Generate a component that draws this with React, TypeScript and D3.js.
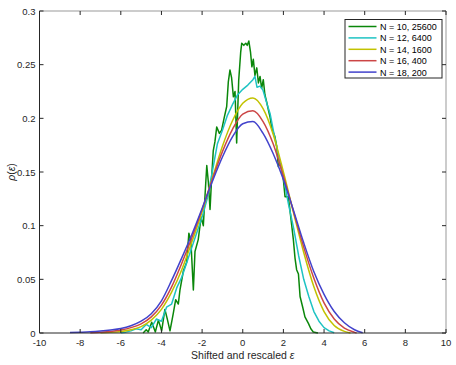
import React from 'react';
import * as d3 from 'd3';

// values
const xTicks = [-10, -8, -6, -4, -2, 0, 2, 4, 6, 8, 10];
const yTicks = [0, 0.05, 0.1, 0.15, 0.2, 0.25, 0.3];
const yTickLabels = ['0', '0.05', '0.1', '0.15', '0.2', '0.25', '0.3'];

const labels = ['N = 10, 25600', 'N = 12, 6400', 'N = 14, 1600', 'N = 16, 400', 'N = 18, 200'];
const colors = ['#0a870a', '#1ec3c3', '#c2c200', '#cc4646', '#4242cc'];

// N = 10 (noisy)
const n10: [number, number][] = [
  [-4.9, 0], [-4.75, 0.003], [-4.65, 0.001], [-4.48, 0.01], [-4.3, 0.001], [-4.15, 0.012],
  [-3.99, 0.002], [-3.83, 0.022], [-3.7, 0.012], [-3.58, 0.002], [-3.42, 0.018], [-3.3, 0.031],
  [-3.17, 0.027], [-3.09, 0.04], [-2.92, 0.058], [-2.76, 0.066], [-2.65, 0.093], [-2.55, 0.085],
  [-2.43, 0.04], [-2.35, 0.076], [-2.19, 0.087], [-2.05, 0.108], [-1.94, 0.1], [-1.86, 0.127],
  [-1.77, 0.156], [-1.69, 0.14], [-1.61, 0.115], [-1.53, 0.145], [-1.45, 0.17], [-1.37, 0.178],
  [-1.28, 0.192], [-1.15, 0.186], [-1.04, 0.189], [-0.92, 0.2], [-0.79, 0.211], [-0.71, 0.234],
  [-0.63, 0.245], [-0.55, 0.238], [-0.46, 0.22], [-0.38, 0.225], [-0.3, 0.177], [-0.2, 0.235],
  [-0.1, 0.262], [-0.05, 0.27], [0.05, 0.268], [0.15, 0.27], [0.22, 0.268], [0.3, 0.272],
  [0.38, 0.262], [0.45, 0.248], [0.52, 0.255], [0.6, 0.24], [0.69, 0.247], [0.77, 0.233],
  [0.85, 0.239], [0.93, 0.228], [1.01, 0.236], [1.09, 0.222], [1.18, 0.215], [1.26, 0.208],
  [1.34, 0.2015], [1.42, 0.192], [1.5, 0.187], [1.58, 0.183], [1.67, 0.174], [1.75, 0.155],
  [1.83, 0.158], [1.92, 0.152], [2.0, 0.1425], [2.08, 0.127], [2.24, 0.127], [2.32, 0.115],
  [2.49, 0.087], [2.57, 0.07], [2.65, 0.059], [2.74, 0.055], [2.82, 0.034], [2.95, 0.024],
  [3.06, 0.015], [3.23, 0.009], [3.35, 0.004], [3.47, 0.001], [3.7, 0],
];

// N = 12
const n12: [number, number][] = [
  [-6.0, 0.0003], [-5.75, 0.0008], [-5.5, 0.002], [-5.25, 0.004], [-5.0, 0.003], [-4.75, 0.008],
  [-4.5, 0.005], [-4.25, 0.013], [-4.0, 0.011], [-3.75, 0.024], [-3.5, 0.027], [-3.25, 0.042],
  [-3.0, 0.052], [-2.75, 0.066], [-2.5, 0.08], [-2.25, 0.094], [-2.0, 0.108], [-1.75, 0.125],
  [-1.5, 0.15], [-1.25, 0.176], [-1.0, 0.189], [-0.75, 0.203], [-0.5, 0.213], [-0.25, 0.222],
  [0, 0.227], [0.25, 0.231], [0.5, 0.236], [0.6, 0.239], [0.7, 0.229], [0.85, 0.23],
  [1.0, 0.226], [1.2, 0.213], [1.35, 0.204], [1.5, 0.189], [1.75, 0.166], [2.0, 0.145],
  [2.25, 0.12], [2.5, 0.098], [2.75, 0.072], [3.0, 0.05], [3.25, 0.034], [3.5, 0.02],
  [3.75, 0.011], [4.0, 0.005], [4.25, 0.002], [4.5, 0.0003],
];

// N = 14
const n14: [number, number][] = [
  [-7, 0.0002], [-6.5, 0.0006], [-6, 0.0014], [-5.5, 0.003], [-5, 0.006], [-4.5, 0.012],
  [-4, 0.022], [-3.5, 0.038], [-3, 0.059], [-2.5, 0.085], [-2, 0.113], [-1.5, 0.144],
  [-1, 0.174], [-0.5, 0.198], [0, 0.214], [0.5, 0.219], [1, 0.209], [1.5, 0.185],
  [2, 0.15], [2.5, 0.112], [3, 0.075], [3.5, 0.043], [4, 0.02], [4.5, 0.007],
  [5, 0.0015], [5.3, 0],
];

// N = 16
const n16: [number, number][] = [
  [-7.5, 0.0003], [-7, 0.0007], [-6.5, 0.0014], [-6, 0.0028], [-5.5, 0.005], [-5, 0.0085],
  [-4.5, 0.015], [-4, 0.026], [-3.5, 0.043], [-3, 0.065], [-2.5, 0.089], [-2, 0.115],
  [-1.5, 0.143], [-1, 0.169], [-0.5, 0.19], [0, 0.204], [0.5, 0.207], [1, 0.197],
  [1.5, 0.176], [2, 0.146], [2.5, 0.113], [3, 0.08], [3.5, 0.051], [4, 0.028],
  [4.5, 0.013], [5, 0.0045], [5.5, 0.0006], [5.6, 0],
];

// N = 18
const n18: [number, number][] = [
  [-8.5, 0.0004], [-8, 0.0007], [-7.5, 0.0011], [-7, 0.0018], [-6.5, 0.0028], [-6, 0.0042],
  [-5.5, 0.0068], [-5, 0.011], [-4.5, 0.018], [-4, 0.03], [-3.5, 0.049], [-3, 0.07],
  [-2.5, 0.092], [-2, 0.116], [-1.5, 0.141], [-1, 0.164], [-0.5, 0.183], [0, 0.195],
  [0.5, 0.197], [1, 0.186], [1.5, 0.167], [2, 0.143], [2.5, 0.114], [3, 0.084],
  [3.5, 0.057], [4, 0.036], [4.5, 0.02], [5, 0.0095], [5.5, 0.003], [5.9, 0.0003],
];

const series = [n10, n12, n14, n16, n18];

const W = 456, H = 365;
const m = { left: 39.5, right: 10, top: 11, bottom: 32 };
const font = 'Liberation Sans, Arial, sans-serif';
const axisColor = '#262626';

export default function App() {
  const x = d3.scaleLinear().domain([-10, 10]).range([m.left, W - m.right]);
  const y = d3.scaleLinear().domain([0, 0.3]).range([H - m.bottom, m.top]);

  const lineJagged = d3.line<[number, number]>().x(d => x(d[0])).y(d => y(d[1]));
  const lineSmooth = d3.line<[number, number]>()
    .x(d => x(d[0])).y(d => y(d[1]))
    .curve(d3.curveMonotoneX);

  const x0 = x(-10), x1 = x(10), y0 = y(0), y1 = y(0.3);
  const tl = 4;

  const legX = 345, legY = 19.5, legW = 97, legH = 58.5, rowH = 11.4;

  return (
    <svg width={W} height={H} style={{ position: 'absolute', left: 0, top: 0, background: '#fff' }}>
      {/* curves */}
      {series.map((s, i) => (
        <path
          key={i}
          d={(i < 2 ? lineJagged(s) : lineSmooth(s)) || ''}
          fill="none"
          stroke={colors[i]}
          strokeWidth={1.5}
          strokeLinejoin="round"
        />
      ))}

      {/* box */}
      <line x1={x0} x2={x1} y1={y1} y2={y1} stroke="#999" strokeWidth={1} />
      <line x1={x1} x2={x1} y1={y1} y2={y0} stroke="#999" strokeWidth={1} />
      <line x1={x0} x2={x1} y1={y0} y2={y0} stroke={axisColor} strokeWidth={1} />
      <line x1={x0} x2={x0} y1={y1} y2={y0} stroke={axisColor} strokeWidth={1} />

      {/* x ticks */}
      {xTicks.map(t => (
        <g key={'x' + t}>
          <line x1={x(t)} x2={x(t)} y1={y0} y2={y0 - tl} stroke={axisColor} />
          <line x1={x(t)} x2={x(t)} y1={y1} y2={y1 + tl} stroke={axisColor} />
          <text x={x(t)} y={y0 + 13} textAnchor="middle" fontFamily={font} fontSize={9.5} fill={axisColor}>
            {t}
          </text>
        </g>
      ))}

      {/* y ticks */}
      {yTicks.map((t, i) => (
        <g key={'y' + t}>
          <line x1={x0} x2={x0 + tl} y1={y(t)} y2={y(t)} stroke={axisColor} />
          <line x1={x1} x2={x1 - tl} y1={y(t)} y2={y(t)} stroke={axisColor} />
          <text x={x0 - 4} y={y(t) + 3.5} textAnchor="end" fontFamily={font} fontSize={9.5} fill={axisColor}>
            {yTickLabels[i]}
          </text>
        </g>
      ))}

      {/* axis labels */}
      <text x={(x0 + x1) / 2} y={H - 6} textAnchor="middle" fontFamily={font} fontSize={10.5} fill={axisColor}>
        Shifted and rescaled <tspan fontStyle="italic">ε</tspan>
      </text>
      <text
        transform={`translate(15,${(y0 + y1) / 2}) rotate(-90)`}
        textAnchor="middle"
        fontFamily={font}
        fontSize={10.5}
        fill={axisColor}
      >
        <tspan fontStyle="italic">ρ</tspan>(<tspan fontStyle="italic">ε</tspan>)
      </text>

      {/* legend */}
      <rect x={legX} y={legY} width={legW} height={legH} fill="#fff" stroke={axisColor} strokeWidth={1} />
      {labels.map((l, i) => (
        <g key={l}>
          <line
            x1={legX + 3.5}
            x2={legX + 31.5}
            y1={legY + 7 + i * rowH}
            y2={legY + 7 + i * rowH}
            stroke={colors[i]}
            strokeWidth={1.5}
          />
          <text x={legX + 35} y={legY + 10.5 + i * rowH} fontFamily={font} fontSize={9} fill="#000">
            {l}
          </text>
        </g>
      ))}
    </svg>
  );
}
